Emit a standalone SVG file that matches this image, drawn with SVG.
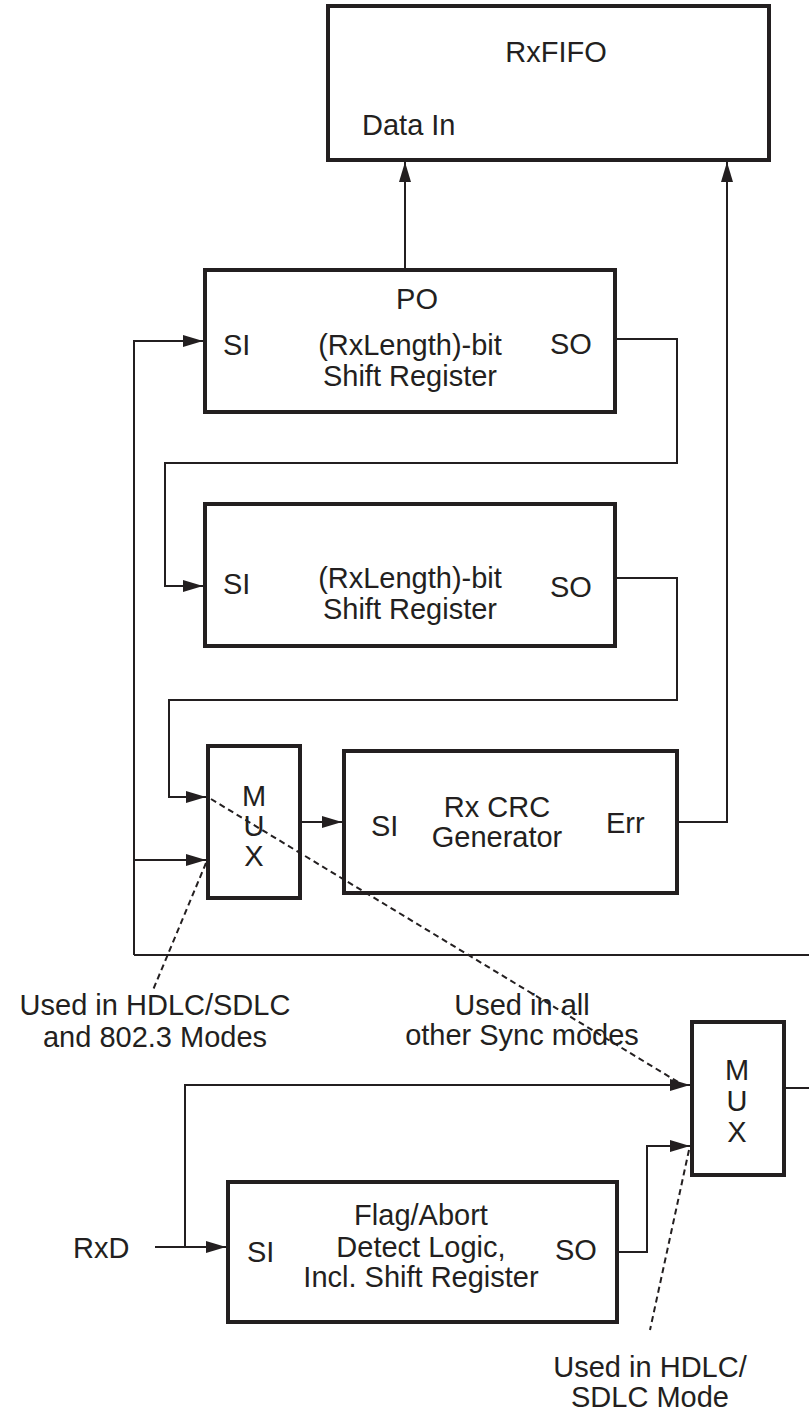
<svg xmlns="http://www.w3.org/2000/svg" width="809" height="1420" viewBox="0 0 809 1420">
<style>
  .box { fill: #fff; stroke: #231f20; stroke-width: 4; }
  .ln { fill: none; stroke: #231f20; stroke-width: 2; }
  .dash { fill: none; stroke: #231f20; stroke-width: 2; stroke-dasharray: 6 4; }
  text { font-family: "Liberation Sans", Arial, sans-serif; font-size: 29px; fill: #231f20; }
  .m { text-anchor: middle; }
</style>
<defs>
  <marker id="ah" markerUnits="userSpaceOnUse" markerWidth="20" markerHeight="12" refX="20" refY="6" orient="auto">
    <path d="M0,0 L20,6 L0,12 z" fill="#231f20"/>
  </marker>
</defs>
<rect width="809" height="1420" fill="#fff"/>

<g id="rxfifo">
  <rect class="box" x="328" y="6" width="441" height="154"/>
  <text class="m" x="556" y="62">RxFIFO</text>
  <text x="362" y="135">Data In</text>
</g>

<g id="shift1">
  <rect class="box" x="205" y="270" width="410" height="142"/>
  <text class="m" x="417" y="309">PO</text>
  <text x="223" y="355">SI</text>
  <text class="m" x="410" y="355">(RxLength)-bit</text>
  <text class="m" x="410" y="386">Shift Register</text>
  <text x="550" y="354">SO</text>
</g>

<g id="shift2">
  <rect class="box" x="205" y="504" width="410" height="142"/>
  <text x="223" y="594">SI</text>
  <text class="m" x="410" y="588">(RxLength)-bit</text>
  <text class="m" x="410" y="619">Shift Register</text>
  <text x="550" y="597">SO</text>
</g>

<g id="mux1">
  <rect class="box" x="208" y="746" width="92" height="152"/>
  <text class="m" x="254" y="806">M</text>
  <text class="m" x="254" y="836">U</text>
  <text class="m" x="254" y="866">X</text>
</g>

<g id="crc">
  <rect class="box" x="344" y="751" width="333" height="142"/>
  <text x="371" y="836">SI</text>
  <text class="m" x="497" y="817">Rx CRC</text>
  <text class="m" x="497" y="847">Generator</text>
  <text x="606" y="833">Err</text>
</g>

<g id="mux2">
  <rect class="box" x="692" y="1022" width="92" height="153"/>
  <text class="m" x="737" y="1080">M</text>
  <text class="m" x="737" y="1111">U</text>
  <text class="m" x="737" y="1142">X</text>
</g>

<g id="flag">
  <rect class="box" x="228" y="1182" width="389" height="140"/>
  <text x="247" y="1262">SI</text>
  <text class="m" x="421" y="1225">Flag/Abort</text>
  <text class="m" x="421" y="1257">Detect Logic,</text>
  <text class="m" x="421" y="1287">Incl. Shift Register</text>
  <text x="555" y="1260">SO</text>
</g>

<g id="connectors">
  <path class="ln" d="M405,270 V162" marker-end="url(#ah)"/>
  <path class="ln" d="M677,822 H727 V162" marker-end="url(#ah)"/>
  <path class="ln" d="M134,955 V341 H203" marker-end="url(#ah)"/>
  <path class="ln" d="M134,955 H809"/>
  <path class="ln" d="M134,860 H206" marker-end="url(#ah)"/>
  <path class="ln" d="M615,339 H677 V463 H165 V586 H203" marker-end="url(#ah)"/>
  <path class="ln" d="M615,578 H677 V700 H169 V797 H206" marker-end="url(#ah)"/>
  <path class="ln" d="M300,822 H342" marker-end="url(#ah)"/>
  <path class="ln" d="M784,1088 H809"/>
  <path class="ln" d="M155,1247 H226" marker-end="url(#ah)"/>
  <path class="ln" d="M185,1247 V1085 H690" marker-end="url(#ah)"/>
  <path class="ln" d="M617,1252 H647 V1146 H690" marker-end="url(#ah)"/>
  <path class="dash" d="M211,799 L678,1082"/>
  <path class="dash" d="M206,863 L153,990"/>
  <path class="dash" d="M689,1150 L650,1330"/>
</g>

<g id="labels">
  <text x="73" y="1258">RxD</text>
  <text class="m" x="155" y="1015">Used in HDLC/SDLC</text>
  <text class="m" x="155" y="1047">and 802.3 Modes</text>
  <text class="m" x="522" y="1015">Used in all</text>
  <text class="m" x="522" y="1045">other Sync modes</text>
  <text class="m" x="650" y="1377">Used in HDLC/</text>
  <text class="m" x="650" y="1407">SDLC Mode</text>
</g>
</svg>
